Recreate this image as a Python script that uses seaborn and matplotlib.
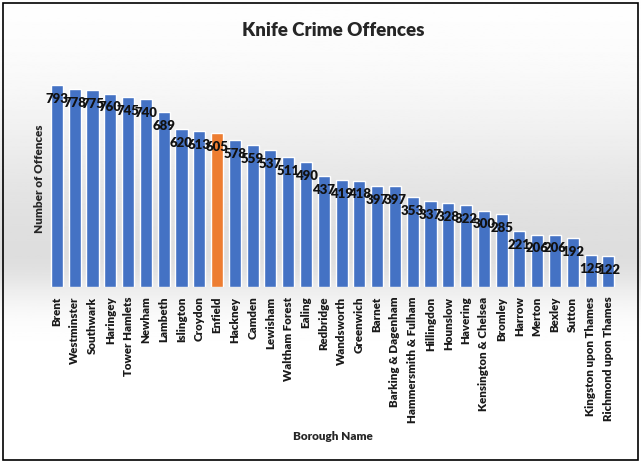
import matplotlib
matplotlib.use('Agg')
import matplotlib.pyplot as plt
import seaborn as sns
import numpy as np
import pandas as pd
from matplotlib.patches import Rectangle

boroughs = ['Brent', 'Westminster', 'Southwark', 'Haringey', 'Tower Hamlets', 'Newham',
            'Lambeth', 'Islington', 'Croydon', 'Enfield', 'Hackney', 'Camden', 'Lewisham',
            'Waltham Forest', 'Ealing', 'Redbridge', 'Wandsworth', 'Greenwich', 'Barnet',
            'Barking & Dagenham', 'Hammersmith & Fulham', 'Hillingdon', 'Hounslow',
            'Havering', 'Kensington & Chelsea', 'Bromley', 'Harrow', 'Merton', 'Bexley',
            'Sutton', 'Kingston upon Thames', 'Richmond upon Thames']
offences = [793, 778, 775, 760, 745, 740, 689, 620, 613, 605, 578, 559, 537, 511, 490,
            437, 419, 418, 397, 397, 353, 337, 328, 322, 300, 285, 221, 206, 206, 192,
            125, 122]
highlight = 'Enfield'

sns.set_style("white")
plt.rcParams['font.family'] = ['Lato', 'DejaVu Sans']

df = pd.DataFrame({'borough': boroughs, 'offences': offences})
palette = {b: ('#ED7D31' if b == highlight else '#4472C4') for b in boroughs}

fig = plt.figure(figsize=(6.41, 4.62), dpi=100)

# фон: градиент белый -> серый -> белый
bg = fig.add_axes([0, 0, 1, 1], zorder=-10)
yy = np.linspace(0, 1, 300)
shade = 1 - 0.13 * np.exp(-((yy - 0.55) / 0.30) ** 2)
shade = np.where(yy > 0.55, 1 - 0.13 * np.exp(-((yy - 0.55) / 0.10) ** 2), shade)
bg.imshow(shade[:, None], cmap='gray', vmin=0, vmax=1, aspect='auto', extent=[0, 1, 0, 1])
bg.axis('off')

ax = fig.add_axes([0.075, 0.379, 0.888, 0.468])
sns.barplot(data=df, x='borough', y='offences', hue='borough', palette=palette,
            width=0.68, legend=False, ax=ax, saturation=1)
ax.set_facecolor('none')
ax.set_xlim(-0.5, len(boroughs) - 0.5)
ax.set_ylim(0, 850)
ax.set_yticks([])
for s in ax.spines.values():
    s.set_visible(False)
ax.tick_params(axis='x', length=0, pad=7)
plt.setp(ax.get_xticklabels(), rotation=90, fontsize=8.3, fontweight='heavy', color='#1a1a1a')
ax.set_xlabel('Borough Name', fontsize=8.5, fontweight='heavy', labelpad=6)
ax.set_ylabel('Number of Offences', fontsize=8.5, fontweight='heavy', labelpad=4)
ax.yaxis.set_label_coords(-0.006, 0.5)

for i, v in enumerate(offences):
    ax.annotate(str(v), (i, v), xytext=(0, -10), textcoords='offset points',
                ha='center', va='center', fontsize=9.5, fontweight='heavy', color='#111111')

fig.text(0.52, 0.935, 'Knife Crime Offences', ha='center', va='center',
         fontsize=13.5, fontweight='heavy')
fig.patches.append(Rectangle((0.004, 0.004), 0.992, 0.99, transform=fig.transFigure,
                             fill=False, edgecolor='black', linewidth=1.2))

fig.savefig('out.png', dpi=100)
plt.close()
